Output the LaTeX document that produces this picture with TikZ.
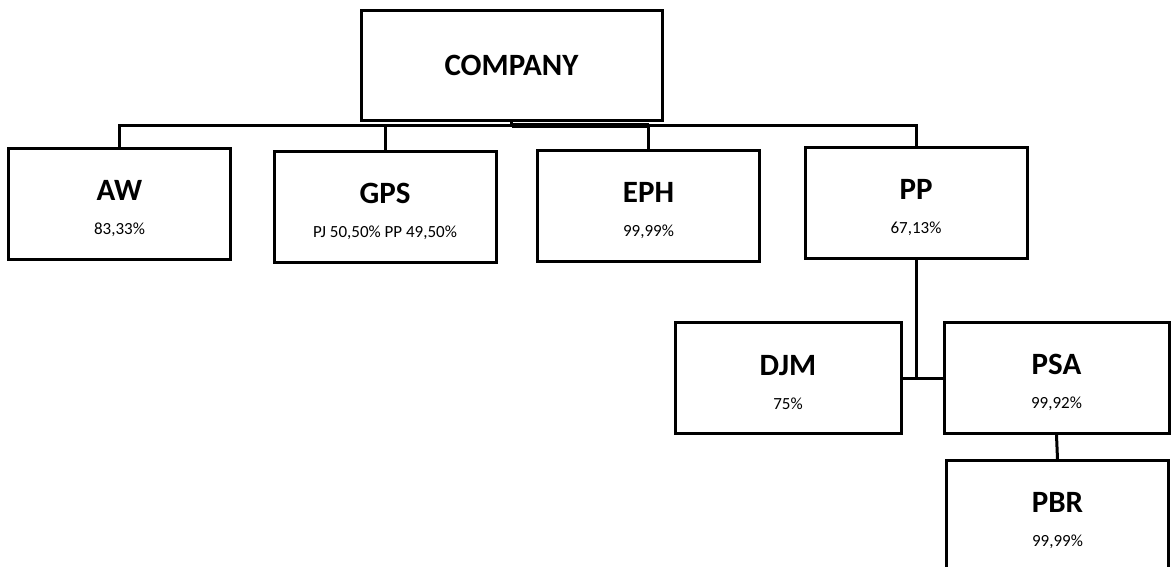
\documentclass[tikz,border=0pt]{standalone}
\usepackage{fontspec}
\setmainfont{Carlito}

\newcommand{\unitname}[2]{{\fontsize{31}{34}\selectfont\bfseries\rule{0pt}{30pt}#1}\\{\fontsize{17}{34}\selectfont #2}}

\begin{document}
\begin{tikzpicture}[x=1pt,y=-1pt,
    unit/.style={draw,line width=3pt,minimum width=222pt,minimum height=111pt,
                 inner sep=0pt,align=center,font=\fontsize{17}{34}\selectfont},
    link/.style={line width=3pt}]
    \useasboundingbox (0,0) rectangle (1171,566);
    \clip (0,0) rectangle (1171,566);

    % Top of the chart
    \node[unit,minimum width=301pt,minimum height=110pt] (company) at (511.5,65)
        {\fontsize{31}{34}\selectfont\bfseries COMPANY};

    % First level
    \node[unit] (aw)  at (119.5,203.5) {\unitname{AW}{83,33\%}};
    \node[unit] (gps) at (385,206.5) {\unitname{GPS}{PJ 50,50\% PP 49,50\%}};
    \node[unit] (eph) at (648.5,206) {\unitname{EPH}{99,99\%}};
    \node[unit] (pp)  at (916,203) {\unitname{PP}{67,13\%}};

    % Below PP
    \node[unit,minimum width=226pt] (djm) at (788,378) {\unitname{DJM}{75\%}};
    \node[unit,minimum width=225pt] (psa) at (1056.5,378) {\unitname{PSA}{99,92\%}};
    \node[unit] (pbr) at (1057.5,516) {\unitname{PBR}{99,99\%}};

    % Connections
    \coordinate (bus) at (511.5,125);
    \draw[link] (company.south) -- (bus);
    \draw[line width=5pt] (bus) -- (eph.north |- bus);
    \foreach \n in {aw,gps,eph,pp}
        \draw[link] (bus) -| (\n.north);
    \draw[link] (pp.south) -- (pp.south |- djm.east);
    \draw[link] (djm.east) -- (psa.west);
    \draw[link] (psa.south) -- (pbr.north);
\end{tikzpicture}
\end{document}
